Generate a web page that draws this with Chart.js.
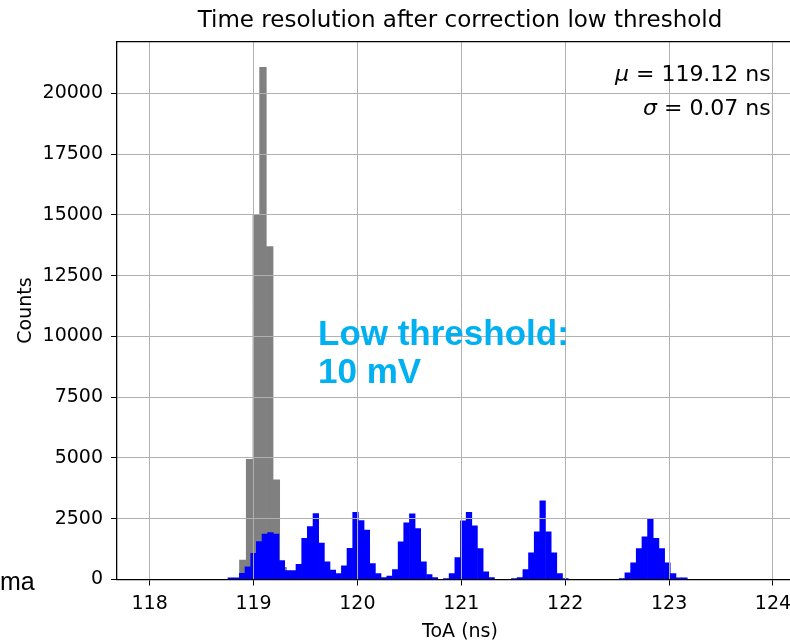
<!DOCTYPE html>
<html>
<head>
<meta charset="utf-8">
<script src="https://cdn.jsdelivr.net/npm/chart.js@4.4.1/dist/chart.umd.min.js"></script>
<style>
html,body{margin:0;padding:0;background:#fff;overflow:hidden;width:790px;height:643px;}
#wrap{position:relative;width:790px;height:643px;overflow:hidden;}
#c{position:absolute;left:0;top:0;}
.note{position:absolute;left:318px;top:314px;font-family:"Liberation Sans",Arial,sans-serif;font-weight:bold;font-size:35px;line-height:38px;color:#00b0f0;white-space:nowrap;}
.side{position:absolute;left:0px;top:569px;font-family:"Liberation Sans",Arial,sans-serif;font-size:25px;line-height:24px;color:#000;white-space:nowrap;}
</style>
</head>
<body>
<div id="wrap">
<canvas id="c" width="820" height="643"></canvas>
<div class="note">Low threshold:<br>10 mV</div>
<div class="side">ma</div>
</div>
<script>
// ---- data ----
const chartTitle = 'Time resolution after correction low threshold';
const xAxisTitle = 'ToA (ns)';
const yAxisTitle = 'Counts';
const xTickValues = [118, 119, 120, 121, 122, 123, 124];
const yTickValues = [0, 2500, 5000, 7500, 10000, 12500, 15000, 17500, 20000];

// blue histogram (low threshold), bin centres in ns
const blueBinCenters = [
  118.781,118.836,118.891,118.945,119.000,119.054,119.109,119.163,119.218,119.273,
  119.327,119.382,119.436,119.491,119.545,119.600,119.655,119.709,119.764,119.818,
  119.873,119.927,119.982,120.037,120.091,120.146,120.200,120.255,120.310,120.364,
  120.419,120.473,120.528,120.582,120.637,120.692,120.746,120.801,120.855,120.910,
  120.965,121.019,121.074,121.128,121.183,121.237,121.292,121.347,121.401,121.456,
  121.510,121.565,121.620,121.674,121.729,121.783,121.838,121.892,121.947,122.002,
  122.056,122.111,122.165,122.220,122.275,122.329,122.384,122.438,122.493,122.547,
  122.602,122.657,122.711,122.766,122.820,122.875,122.930,122.984,123.039,123.093,
  123.148
];
const blueCounts = [
  70,70,250,525,1080,1560,1870,1930,1870,780,
  370,370,620,1690,2180,2710,1500,730,385,248,
  560,1280,2760,2420,2030,660,247,82,137,412,
  1550,2335,2706,2100,728,200,82,0,41,247,
  907,2418,2761,2212,1277,316,82,0,0,0,
  41,82,412,1099,1964,3242,1964,1099,247,41,
  0,0,0,0,0,0,0,0,0,41,
  275,687,1277,1758,2473,1690,1277,687,247,69,
  69
];

// grey histogram (after correction), bin centres in ns
const greyBinCenters = [118.897, 118.962, 119.027, 119.091, 119.156, 119.220, 119.285];
const greyCounts = [800, 4950, 15000, 21080, 13700, 4100, 500];

// fit statistics text
const statSymbols = ['\u03bc', '\u03c3'];
const statValues = ['119.12', '0.07'];
const statUnit = 'ns';

// axis limits
const xMin = 117.686, xMax = 124.289;
const yMin = 0, yMax = 22130;

// ---- drawing ----
const FONT = '"DejaVu Sans", "Liberation Sans", sans-serif';
Chart.defaults.font.family = FONT;
Chart.defaults.color = '#000';

const framePlugin = {
  id: 'frame',
  afterDraw(chart) {
    const {ctx, chartArea: a} = chart;
    ctx.save();
    ctx.strokeStyle = '#000';
    ctx.lineWidth = 1.3;
    ctx.beginPath();
    ctx.moveTo(a.left, a.top);
    ctx.lineTo(a.right, a.top);
    ctx.lineTo(a.right, a.bottom);
    ctx.stroke();

    // statistics text, right aligned in axes coordinates
    const xr = a.left + 0.953 * (a.right - a.left);
    const ys = [a.top + 0.062 * (a.bottom - a.top), a.top + 0.125 * (a.bottom - a.top)];
    ctx.fillStyle = '#000';
    ctx.textBaseline = 'middle';
    ctx.textAlign = 'left';
    const italic = 'italic 22px ' + FONT;
    const normal = '22px ' + FONT;
    for (let i = 0; i < statSymbols.length; i++) {
      const rest = ' = ' + statValues[i] + ' ' + statUnit;
      ctx.font = italic; const w1 = ctx.measureText(statSymbols[i]).width;
      ctx.font = normal; const w2 = ctx.measureText(rest).width;
      const x = xr - w1 - w2;
      ctx.font = italic; ctx.fillText(statSymbols[i], x, ys[i]);
      ctx.font = normal; ctx.fillText(rest, x + w1, ys[i]);
    }
    ctx.restore();
  }
};

const gridOpts = {color: '#b0b0b0', lineWidth: 1, tickColor: '#000', tickLength: 6, z: 1, offset: false};
const tickFont = {family: FONT, size: 19};

new Chart(document.getElementById('c'), {
  type: 'bar',
  data: {
    datasets: [
      {
        label: 'low threshold',
        data: blueCounts.map((v, i) => ({x: blueBinCenters[i], y: v})),
        backgroundColor: '#0000ff',
        borderWidth: 0,
        grouped: false,
        categoryPercentage: 1,
        barPercentage: 1,
        xAxisID: 'x',
        order: 0
      },
      {
        label: 'after correction',
        data: greyCounts.map((v, i) => ({x: greyBinCenters[i], y: v})),
        backgroundColor: '#808080',
        borderWidth: 0,
        grouped: false,
        categoryPercentage: 1,
        barPercentage: 1,
        xAxisID: 'x2',
        order: 1
      }
    ]
  },
  options: {
    responsive: false,
    animation: false,
    datasets: {bar: {categoryPercentage: 1, barPercentage: 1, grouped: false}},
    layout: {padding: {left: 0, right: 17, top: 0, bottom: 0}},
    plugins: {
      legend: {display: false},
      tooltip: {enabled: false},
      title: {
        display: true,
        text: chartTitle,
        fullSize: false,
        color: '#000',
        font: {family: FONT, size: 23, weight: 'normal', lineHeight: 1.2},
        padding: {top: 7, bottom: 7.1}
      }
    },
    scales: {
      x: {
        type: 'linear',
        offset: false,
        min: xMin, max: xMax,
        afterBuildTicks: s => { s.ticks = xTickValues.map(v => ({value: v})); },
        afterFit: s => { s.height = 63.5; },
        ticks: {font: tickFont, color: '#000', padding: 7, maxRotation: 0, autoSkip: false, callback: v => String(v)},
        grid: gridOpts,
        border: {color: '#000', width: 1.3, z: 2},
        title: {display: true, text: xAxisTitle, color: '#000', font: {family: FONT, size: 19, lineHeight: 1.2}, padding: {top: 0, bottom: 0}}
      },
      x2: {
        type: 'linear',
        offset: false,
        min: xMin, max: xMax,
        display: false,
        grid: {offset: false}
      },
      y: {
        type: 'linear',
        min: yMin, max: yMax,
        afterBuildTicks: s => { s.ticks = yTickValues.map(v => ({value: v})); },
        afterFit: s => { s.width = 117; },
        ticks: {font: tickFont, color: '#000', padding: 8, callback: v => String(v)},
        grid: gridOpts,
        border: {color: '#000', width: 1.3, z: 2},
        title: {display: true, text: yAxisTitle, color: '#000', font: {family: FONT, size: 19, lineHeight: 1.2}, padding: {top: 15, bottom: 0}}
      }
    }
  },
  plugins: [framePlugin]
});
</script>
</body>
</html>
